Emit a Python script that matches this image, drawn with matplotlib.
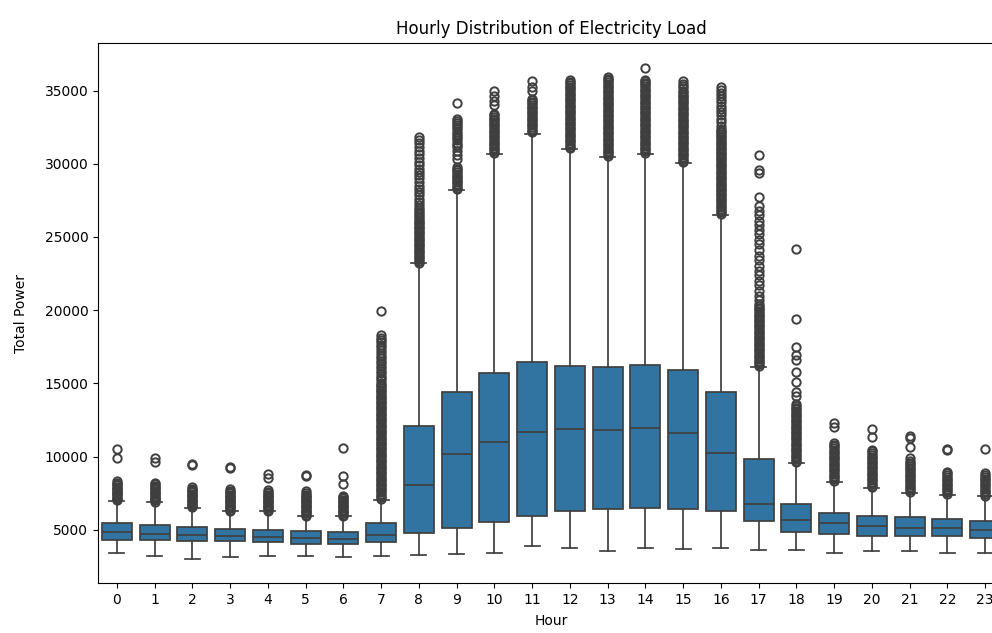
import matplotlib.pyplot as plt

# hourly load summary: box stats per hour of day
hours = list(range(24))
q1 = [4320, 4320, 4205, 4205, 4135, 4025, 4025, 4160, 4775, 5155, 5565, 5955, 6275, 6430,
      6500, 6430, 6295, 5595, 4840, 4705, 4590, 4590, 4545, 4430]
med = [4820, 4705, 4635, 4545, 4475, 4410, 4385, 4635, 8070, 10205, 10980, 11705, 11890, 11795,
       11980, 11635, 10270, 6775, 5660, 5430, 5275, 5155, 5115, 4975]
q3 = [5455, 5320, 5180, 5045, 4955, 4885, 4840, 5430, 12115, 14430, 15730, 16435, 16185, 16095,
      16255, 15910, 14430, 9865, 6775, 6135, 5955, 5885, 5750, 5615]
whis_lo = [3410, 3180, 3020, 3115, 3180, 3180, 3115, 3180, 3275, 3365, 3430, 3910, 3750, 3525,
           3750, 3680, 3750, 3590, 3590, 3410, 3525, 3525, 3410, 3410]
whis_hi = [6980, 6865, 6480, 6250, 6250, 5910, 5910, 7045, 23190, 28190, 30690, 32060, 31000,
           30465, 30690, 30050, 26500, 16140, 9550, 8295, 7840, 7545, 7385, 7275]

# outliers per hour
fliers = [
    [7000, 7090, 7190, 7270, 7360, 7440, 7530, 7610, 7700, 7780, 7870, 7950, 8040, 8130, 8220,
     8300, 9900, 10520],
    [6920, 7000, 7090, 7170, 7260, 7340, 7430, 7510, 7600, 7680, 7770, 7850, 7940, 8020, 8110,
     8200, 9650, 9880],
    [6530, 6610, 6700, 6780, 6870, 6950, 7040, 7120, 7210, 7290, 7380, 7460, 7550, 7630, 7720,
     7800, 7900, 9430, 9510],
    [6300, 6380, 6470, 6550, 6640, 6720, 6810, 6890, 6980, 7060, 7150, 7230, 7320, 7400, 7490,
     7570, 7660, 7780, 9200, 9290],
    [6300, 6380, 6470, 6550, 6640, 6720, 6810, 6890, 6980, 7060, 7150, 7230, 7320, 7400, 7490,
     7580, 7700, 8540, 8820],
    [5960, 6040, 6130, 6210, 6300, 6380, 6470, 6550, 6640, 6720, 6810, 6890, 6980, 7060, 7150,
     7230, 7320, 7400, 7500, 7620, 8640, 8730],
    [5960, 6040, 6130, 6210, 6300, 6380, 6470, 6550, 6640, 6720, 6810, 6890, 6980, 7060, 7150,
     7230, 7320, 8120, 8680, 10600],
    [7100, 7220, 7340, 7450, 7570, 7690, 7800, 7920, 8040, 8150, 8270, 8390, 8500, 8620, 8740,
     8850, 8970, 9090, 9200, 9320, 9440, 9550, 9670, 9790, 9900, 10020, 10140, 10250, 10370,
     10490, 10600, 10720, 10840, 10950, 11070, 11190, 11300, 11420, 11540, 11650, 11770, 11890,
     12000, 12120, 12240, 12350, 12470, 12590, 12700, 12820, 12940, 13050, 13170, 13290, 13400,
     13520, 13640, 13750, 13870, 13990, 14100, 14220, 14340, 14450, 14570, 14690, 14800, 14920,
     15040, 15200, 15380, 15520, 15700, 15850, 16050, 16200, 16400, 16560, 16750, 16900, 17100,
     17250, 17450, 17600, 17800, 17950, 18100, 18300, 19950],
    [23250, 23370, 23490, 23600, 23720, 23840, 23950, 24070, 24190, 24300, 24420, 24540, 24650,
     24770, 24890, 25000, 25120, 25240, 25350, 25470, 25590, 25700, 25820, 25940, 26050, 26170,
     26290, 26400, 26550, 26700, 26850, 27000, 27200, 27400, 27600, 27850, 28050, 28300, 28500,
     28750, 29000, 29200, 29450, 29650, 29900, 30150, 30400, 30650, 30900, 31150, 31400, 31600,
     31850],
    [28250, 28370, 28490, 28600, 28720, 28840, 28950, 29070, 29190, 29300, 29420, 29540, 29650,
     29780, 30300, 30600, 30900, 31150, 31300, 31450, 31600, 31750, 31900, 32050, 32200, 32350,
     32500, 32650, 32800, 32950, 33080, 34150],
    [30750, 30870, 30990, 31100, 31220, 31340, 31450, 31570, 31690, 31800, 31920, 32040, 32150,
     32270, 32390, 32500, 32620, 32740, 32850, 32970, 33090, 33200, 33320, 33430, 34000, 34300,
     34600, 34950],
    [32150, 32270, 32390, 32500, 32620, 32740, 32850, 32970, 33090, 33200, 33320, 33440, 33550,
     33670, 33790, 33900, 34020, 34140, 34250, 34370, 34450, 35000, 35250, 35650],
    [31050, 31170, 31290, 31400, 31520, 31640, 31750, 31870, 31990, 32100, 32220, 32340, 32450,
     32570, 32690, 32800, 32920, 33040, 33150, 33270, 33390, 33500, 33620, 33740, 33850, 33970,
     34090, 34200, 34320, 34440, 34550, 34670, 34790, 34900, 35020, 35140, 35250, 35370, 35490,
     35600, 35750],
    [30550, 30670, 30790, 30900, 31020, 31140, 31250, 31370, 31490, 31600, 31720, 31840, 31950,
     32070, 32190, 32300, 32420, 32540, 32650, 32770, 32890, 33000, 33120, 33240, 33350, 33470,
     33590, 33700, 33820, 33940, 34050, 34170, 34290, 34400, 34520, 34640, 34750, 34870, 34990,
     35100, 35220, 35340, 35450, 35570, 35690, 35800, 35950],
    [30750, 30870, 30990, 31100, 31220, 31340, 31450, 31570, 31690, 31800, 31920, 32040, 32150,
     32270, 32390, 32500, 32620, 32740, 32850, 32970, 33090, 33200, 33320, 33440, 33550, 33670,
     33790, 33900, 34020, 34140, 34250, 34370, 34490, 34600, 34720, 34840, 34950, 35070, 35190,
     35300, 35420, 35540, 35650, 35750, 36550],
    [30100, 30220, 30340, 30450, 30570, 30690, 30800, 30920, 31040, 31150, 31270, 31390, 31500,
     31620, 31740, 31850, 31970, 32090, 32200, 32320, 32440, 32550, 32670, 32790, 32900, 33020,
     33140, 33250, 33370, 33490, 33600, 33720, 33840, 33950, 34070, 34190, 34300, 34420, 34540,
     34650, 34770, 34890, 35000, 35150, 35300, 35450, 35650],
    [26550, 26670, 26790, 26900, 27020, 27140, 27250, 27370, 27490, 27600, 27720, 27840, 27950,
     28070, 28190, 28300, 28420, 28540, 28650, 28770, 28890, 29000, 29120, 29240, 29350, 29470,
     29590, 29700, 29820, 29940, 30050, 30170, 30290, 30400, 30520, 30640, 30750, 30870, 30990,
     31100, 31220, 31340, 31450, 31570, 31690, 31800, 31920, 32040, 32150, 32270, 32400, 32600,
     32850, 33050, 33300, 33500, 33750, 33950, 34200, 34400, 34650, 34850, 35050, 35250],
    [16200, 16320, 16440, 16550, 16670, 16790, 16900, 17020, 17140, 17250, 17370, 17490, 17600,
     17720, 17840, 17950, 18070, 18190, 18300, 18420, 18540, 18650, 18770, 18890, 19000, 19120,
     19240, 19350, 19470, 19590, 19700, 19820, 19940, 20050, 20170, 20290, 20400, 20700, 21000,
     21300, 21700, 22000, 22400, 22700, 23000, 23400, 23700, 24100, 24500, 24800, 25200, 25500,
     25800, 26100, 26500, 26800, 27100, 27700, 29350, 29600, 30600],
    [9600, 9720, 9840, 9950, 10070, 10190, 10300, 10420, 10540, 10650, 10770, 10890, 11000,
     11120, 11240, 11350, 11470, 11590, 11700, 11820, 11940, 12050, 12170, 12290, 12400, 12520,
     12640, 12750, 12870, 12990, 13100, 13220, 13340, 13450, 13600, 14140, 14400, 15110, 15800,
     16600, 16940, 17450, 19370, 24150],
    [8350, 8470, 8590, 8700, 8820, 8940, 9050, 9170, 9290, 9400, 9520, 9640, 9750, 9870, 9990,
     10100, 10220, 10340, 10450, 10570, 10690, 10800, 10900, 12000, 12300],
    [7900, 8020, 8140, 8250, 8370, 8490, 8600, 8720, 8840, 8950, 9070, 9190, 9300, 9420, 9540,
     9650, 9770, 9890, 10000, 10120, 10240, 10350, 10470, 11360, 11880],
    [7600, 7720, 7840, 7950, 8070, 8190, 8300, 8420, 8540, 8650, 8770, 8890, 9000, 9120, 9240,
     9350, 9470, 9590, 9700, 9890, 10680, 11250, 11420],
    [7450, 7570, 7690, 7800, 7920, 8040, 8150, 8270, 8390, 8500, 8620, 8740, 8850, 8980, 10440,
     10500],
    [7330, 7450, 7570, 7680, 7800, 7920, 8030, 8150, 8270, 8380, 8500, 8620, 8730, 8870, 10500],
]

box_color = '#3274a1'
line_color = '#3f3f3f'

stats = []
for ii in range(len(hours)):
    stats.append(dict(med=med[ii], q1=q1[ii], q3=q3[ii], whislo=whis_lo[ii],
                      whishi=whis_hi[ii], fliers=fliers[ii]))

fig = plt.figure(figsize=(9.92, 6.33), dpi=100)
ax = fig.add_axes([0.0988, 0.0785, 0.9133, 0.8531])

ax.bxp(stats, positions=hours, widths=0.8, capwidths=0.4, patch_artist=True,
       boxprops=dict(facecolor=box_color, edgecolor=line_color, linewidth=1.25),
       medianprops=dict(color=line_color, linewidth=1.25),
       whiskerprops=dict(color=line_color, linewidth=1.25),
       capprops=dict(color=line_color, linewidth=1.25),
       flierprops=dict(marker='o', markerfacecolor='none', markeredgecolor=line_color,
                       markersize=6, markeredgewidth=1.4))

ax.set_xlim(-0.5, 23.5)
ax.set_xticks(hours)
ax.set_xticklabels([str(h) for h in hours])
ax.set_title('Hourly Distribution of Electricity Load', fontsize=12, pad=7)
ax.set_xlabel('Hour', labelpad=5)
ax.set_ylabel('Total Power', labelpad=12)

plt.savefig('out.png', dpi=100)
